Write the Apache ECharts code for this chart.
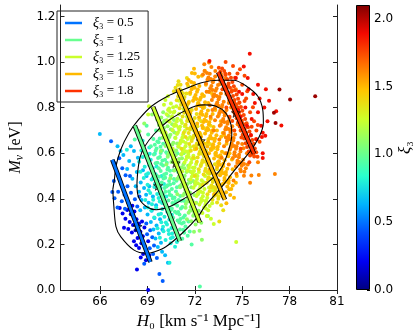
<!DOCTYPE html>
<html>
<head>
<meta charset="utf-8">
<script src="https://cdn.jsdelivr.net/npm/echarts@6/dist/echarts.min.js"></script>
<style>
  html, body { margin: 0; padding: 0; background: #fff; }
  #chart { width: 415px; height: 336px; }
</style>
</head>
<body>
<div id="chart"></div>
<script>
// tick labels
const xTicks = [66, 69, 72, 75, 78, 81];
const yTicks = [0, 0.2, 0.4, 0.6, 0.8, 1.0, 1.2];
const cbTicks = [0, 0.5, 1.0, 1.5, 2.0];

// xi3 value of the samples, one list of [H0, Mnu] per colour
const xiLevels = [0.2, 0.45, 0.65, 0.8, 0.95, 1.1, 1.25, 1.38, 1.5, 1.62, 1.75, 1.88, 2.05];

const pts020 = [[67.72,0.351],[67.95,0.332],[68.18,0.344],[67.61,0.312],[67.88,0.298],[68.09,0.285],[68.31,0.31],[68.47,0.292],[67.79,0.268],[68.02,0.252],[68.25,0.262],[68.56,0.255],[68.71,0.236],[68.38,0.228],[68.15,0.214],[68.62,0.205],[68.84,0.192],[68.47,0.184],[68.95,0.168],[68.73,0.158],[69.12,0.151],[68.58,0.142],[68.91,0.131],[68.29,0.196],[67.52,0.273],[67.43,0.336],[68.81,0.274],[69.05,0.214],[68.34,0.09],[69.05,0.0],[67.25,0.36],[68.05,0.37],[68.66,0.3]];
const pts045 = [[66.70,0.652],[67.22,0.578],[66.95,0.556],[67.41,0.534],[67.08,0.512],[67.62,0.503],[66.88,0.478],[67.33,0.466],[67.74,0.455],[67.15,0.431],[67.55,0.418],[67.96,0.426],[66.92,0.402],[67.38,0.389],[67.82,0.381],[68.21,0.398],[67.11,0.362],[67.58,0.356],[68.36,0.366],[68.93,0.292],[69.18,0.262],[69.31,0.231],[68.98,0.244],[69.42,0.195],[69.15,0.183],[69.36,0.158],[69.6,0.14],[69.76,0.07],[69.97,0.04],[68.8,0.115],[66.78,0.43],[67.9,0.5],[68.5,0.41]];
const pts065 = [[65.99,0.684],[67.11,0.630],[67.48,0.592],[67.85,0.566],[68.12,0.548],[67.72,0.531],[68.33,0.517],[68.05,0.488],[68.58,0.472],[68.26,0.455],[68.79,0.447],[68.47,0.431],[68.92,0.418],[68.63,0.395],[69.08,0.383],[68.84,0.362],[69.27,0.348],[69.01,0.331],[69.45,0.316],[69.22,0.298],[69.58,0.283],[69.38,0.265],[69.72,0.248],[69.51,0.226],[69.86,0.207],[69.66,0.189],[69.93,0.168],[70.12,0.152],[68.4,0.58],[68.72,0.525],[69.12,0.455],[69.55,0.372],[69.8,0.31],[68.15,0.61],[67.95,0.63],[69.35,0.41],[69.95,0.265],[70.3,0.12],[68.95,0.5],[68.55,0.35],[67.3,0.61]];
const pts080 = [[68.62,0.612],[68.95,0.588],[68.48,0.562],[69.21,0.571],[68.83,0.541],[69.34,0.534],[69.05,0.512],[69.52,0.508],[68.77,0.491],[69.27,0.485],[69.66,0.479],[69.01,0.462],[69.44,0.452],[69.83,0.448],[69.18,0.425],[69.62,0.421],[69.97,0.414],[69.37,0.396],[69.78,0.388],[70.11,0.378],[69.56,0.362],[69.95,0.355],[70.26,0.343],[69.71,0.331],[70.08,0.321],[70.39,0.309],[69.88,0.297],[70.24,0.287],[70.52,0.272],[70.02,0.258],[70.36,0.246],[70.61,0.231],[70.15,0.219],[70.47,0.205],[70.75,0.19],[69.12,0.625],[69.47,0.598],[68.7,0.655],[70.2,0.41],[70.55,0.33],[69.9,0.5],[70.87,0.21],[70.05,0.465],[69.25,0.35],[70.4,0.12],
  [68.71,0.583],[69.13,0.547],[68.92,0.507],[69.48,0.466],[69.07,0.437],[69.71,0.403],[69.29,0.376],[69.86,0.334],[69.43,0.318],[70.17,0.296],[69.64,0.271],[70.33,0.262],[69.79,0.229],[70.56,0.248],[68.87,0.395],[69.58,0.542],[69.93,0.382],[70.28,0.359],[69.36,0.492],[68.56,0.519],[69.02,0.362],[70.48,0.227],[69.15,0.598],[69.99,0.277],[67.7,0.615]];
const pts095 = [[69.05,0.682],[69.38,0.662],[69.71,0.648],[69.22,0.631],[69.58,0.621],[69.93,0.612],[69.41,0.594],[69.79,0.583],[70.12,0.571],[69.63,0.558],[69.99,0.546],[70.31,0.536],[69.84,0.522],[70.19,0.511],[70.48,0.502],[70.02,0.489],[70.37,0.478],[70.66,0.468],[70.21,0.454],[70.55,0.443],[70.81,0.432],[70.41,0.418],[70.72,0.406],[70.98,0.395],[70.58,0.382],[70.89,0.369],[71.12,0.357],[70.74,0.343],[71.03,0.331],[71.27,0.318],[70.91,0.305],[71.18,0.292],[71.41,0.279],[71.06,0.265],[71.33,0.251],[71.55,0.238],[71.21,0.225],[69.55,0.7],[70.28,0.595],[70.65,0.525],[71.05,0.455],[71.35,0.39],[71.6,0.3],[68.95,0.72],[69.6,0.5],[70.0,0.42],[70.4,0.36],[71.8,0.2],[70.9,0.6],[72.32,0.015],
  [69.47,0.637],[69.84,0.601],[70.23,0.558],[69.72,0.534],[70.06,0.507],[70.43,0.523],[69.91,0.472],[70.29,0.459],[70.68,0.487],[70.14,0.431],[70.52,0.414],[70.87,0.451],[70.33,0.392],[70.71,0.377],[71.08,0.412],[70.49,0.351],[70.86,0.338],[71.21,0.364],[70.63,0.317],[71.02,0.296],[71.37,0.327],[69.68,0.579],[70.37,0.621],[70.81,0.562],[71.14,0.502],[70.95,0.518],[69.52,0.556],[70.0,0.641],[70.58,0.593],[71.45,0.431],[71.27,0.264],[71.68,0.257],[70.16,0.374],[69.78,0.665],
  [69.52,0.611],[69.87,0.553],[70.13,0.492],[70.44,0.463],[69.74,0.497],[70.61,0.401],[70.95,0.342],[69.95,0.568],[70.27,0.528],[70.79,0.389],[71.09,0.311],[70.08,0.447],[70.37,0.432],[69.63,0.651],[70.55,0.358],[71.3,0.296],[70.84,0.479],[70.19,0.604],[69.83,0.628],[71.16,0.391],[68.2,0.66]];
const pts110 = [[69.62,0.748],[69.95,0.731],[70.28,0.718],[69.78,0.702],[70.12,0.693],[70.46,0.681],[69.97,0.668],[70.31,0.657],[70.64,0.646],[70.15,0.632],[70.49,0.621],[70.82,0.612],[70.34,0.597],[70.68,0.586],[71.01,0.575],[70.52,0.561],[70.86,0.549],[71.18,0.538],[70.71,0.524],[71.04,0.512],[71.36,0.501],[70.89,0.488],[71.22,0.476],[71.53,0.465],[71.07,0.451],[71.4,0.439],[71.69,0.428],[71.25,0.414],[71.57,0.402],[71.85,0.391],[71.43,0.377],[71.74,0.364],[72.01,0.352],[71.61,0.339],[71.9,0.326],[72.16,0.314],[71.78,0.301],[72.05,0.287],[71.95,0.256],[72.3,0.26],[69.3,0.77],[70.0,0.78],[70.6,0.7],[71.3,0.6],[71.7,0.52],[72.2,0.42],[70.2,0.55],[70.9,0.42],[69.85,0.61],[72.45,0.22],[71.1,0.65],[71.5,0.31],[72.0,0.47],[70.45,0.49],[72.83,0.325],
  [69.88,0.757],[70.21,0.744],[70.57,0.727],[70.05,0.711],[70.39,0.671],[70.76,0.668],[70.23,0.679],[70.58,0.638],[70.96,0.628],[70.42,0.608],[70.79,0.591],[71.13,0.594],[70.61,0.572],[70.97,0.557],[71.29,0.552],[70.83,0.531],[71.14,0.521],[71.47,0.518],[70.99,0.498],[71.31,0.487],[71.62,0.482],[71.16,0.463],[71.49,0.447],[71.78,0.451],[71.34,0.423],[71.66,0.409],[71.97,0.417],[71.52,0.388],[71.82,0.371],[72.09,0.383],[71.69,0.348],[71.98,0.335],[70.31,0.764],[69.73,0.724],[70.68,0.746],[71.24,0.615],[71.58,0.545],[71.9,0.478],[72.24,0.348],[72.41,0.295],
  [70.07,0.742],[70.36,0.639],[70.74,0.609],[70.29,0.584],[70.92,0.532],[71.23,0.457],[71.51,0.419],[70.64,0.566],[71.07,0.488],[71.42,0.361],[71.84,0.349],[70.48,0.705],[70.88,0.643],[71.19,0.578],[71.63,0.389],[72.12,0.308],[70.71,0.691],[71.35,0.534],[71.72,0.472],[69.92,0.692],[68.5,0.696],[68.8,0.73]];
const pts125 = [[70.05,0.812],[70.38,0.796],[70.71,0.783],[70.22,0.771],[70.56,0.762],[70.89,0.751],[70.41,0.738],[70.74,0.727],[71.07,0.716],[70.59,0.702],[70.93,0.691],[71.26,0.681],[70.78,0.667],[71.12,0.656],[71.44,0.645],[70.97,0.631],[71.31,0.62],[71.63,0.609],[71.16,0.596],[71.49,0.584],[71.81,0.573],[71.35,0.559],[71.68,0.548],[71.99,0.537],[71.54,0.523],[71.86,0.511],[72.17,0.5],[71.73,0.486],[72.05,0.474],[72.34,0.463],[71.92,0.449],[72.23,0.437],[72.52,0.426],[72.11,0.412],[72.41,0.4],[72.68,0.389],[72.29,0.375],[72.59,0.362],[72.85,0.35],[72.48,0.338],[72.76,0.325],[73.02,0.313],[72.72,0.393],[70.3,0.85],[71.0,0.83],[71.8,0.66],[72.4,0.55],[72.9,0.45],[70.6,0.62],[71.2,0.52],[71.95,0.7],[73.1,0.38],[70.15,0.69],[72.65,0.5],[71.5,0.76],[74.62,0.21],[73.2,0.29],[72.0,0.38],[70.8,0.57],[71.4,0.45],
  [70.14,0.833],[70.49,0.818],[70.83,0.806],[70.31,0.789],[70.66,0.779],[71.01,0.772],[70.52,0.754],[70.86,0.739],[71.19,0.733],[70.69,0.719],[71.03,0.703],[71.37,0.697],[70.87,0.684],[71.21,0.668],[71.54,0.662],[71.06,0.643],[71.41,0.631],[71.72,0.627],[71.25,0.608],[71.59,0.596],[71.91,0.589],[71.44,0.571],[71.77,0.559],[72.08,0.553],[71.63,0.536],[71.95,0.522],[72.26,0.517],[71.82,0.498],[72.14,0.487],[72.44,0.481],[72.02,0.461],[72.33,0.449],[72.61,0.443],[72.2,0.424],[72.51,0.411],[72.79,0.405],[72.38,0.386],[72.67,0.374],[72.94,0.368],[71.29,0.794],[71.65,0.742],[72.35,0.623],[72.83,0.512],[73.16,0.438],
  [70.44,0.781],[70.97,0.712],[71.27,0.651],[71.62,0.583],[71.88,0.536],[72.19,0.468],[72.47,0.394],[70.63,0.802],[71.12,0.744],[71.46,0.608],[71.79,0.517],[72.09,0.505],[72.37,0.431],[72.7,0.357],[70.82,0.721],[71.36,0.718],[71.97,0.578],[72.55,0.473],[70.27,0.742],[71.7,0.671],[69.05,0.77],[69.1,0.806]];
const pts138 = [[70.68,0.872],[71.02,0.858],[71.35,0.846],[70.86,0.832],[71.2,0.822],[71.53,0.811],[71.04,0.797],[71.38,0.786],[71.71,0.775],[71.23,0.761],[71.57,0.75],[71.89,0.739],[71.42,0.725],[71.76,0.714],[72.08,0.703],[71.61,0.689],[71.95,0.678],[72.26,0.667],[71.8,0.653],[72.13,0.642],[72.44,0.631],[71.99,0.617],[72.32,0.606],[72.62,0.595],[72.18,0.581],[72.5,0.569],[72.8,0.558],[72.37,0.544],[72.69,0.532],[72.98,0.521],[72.56,0.507],[72.87,0.495],[73.15,0.484],[72.75,0.47],[73.05,0.458],[73.33,0.447],[72.94,0.433],[73.23,0.421],[73.5,0.41],[73.12,0.396],[73.41,0.384],[73.67,0.372],[71.1,0.9],[71.7,0.86],[72.4,0.74],[72.95,0.64],[73.4,0.53],[71.3,0.69],[71.9,0.58],[72.5,0.46],[73.6,0.46],[71.5,0.93],[72.2,0.82],[72.75,0.7],[73.3,0.6],[71.15,0.62],[72.0,0.5],[73.8,0.35],[70.97,0.916],[72.6,0.8],[73.0,0.72],[71.65,0.64],[72.25,0.53],[72.8,0.42],[73.55,0.3],
  [70.78,0.887],[71.13,0.874],[71.47,0.862],[70.95,0.849],[71.29,0.837],[71.63,0.826],[71.13,0.812],[71.47,0.802],[71.81,0.79],[71.33,0.777],[71.67,0.766],[72.0,0.754],[71.51,0.741],[71.85,0.729],[72.17,0.718],[71.7,0.704],[72.04,0.693],[72.36,0.683],[71.89,0.668],[72.23,0.657],[72.53,0.646],[72.08,0.632],[72.41,0.621],[72.71,0.611],[72.27,0.596],[72.59,0.585],[72.89,0.574],[72.46,0.559],[72.78,0.548],[73.07,0.537],[72.65,0.522],[72.96,0.511],[73.24,0.5],[72.84,0.486],[73.14,0.474],[73.42,0.463],[73.03,0.449],[73.32,0.437],[73.59,0.426],[73.21,0.412],[73.49,0.4],[71.58,0.895],[71.97,0.84],[72.58,0.71],[73.15,0.62],[73.61,0.51],[72.12,0.772],[72.86,0.661],[73.45,0.56],[71.42,0.671],[71.75,0.611],[72.13,0.562],
  [71.06,0.881],[71.41,0.807],[71.78,0.742],[72.11,0.683],[72.47,0.598],[72.82,0.517],[73.18,0.452],[71.25,0.863],[71.66,0.784],[72.03,0.716],[72.33,0.636],[72.68,0.563],[73.02,0.488],[73.36,0.419],[71.52,0.708],[71.94,0.631],[72.72,0.641],[72.29,0.748],[73.27,0.551],[70.92,0.899]];
const pts150 = [[71.52,0.905],[71.86,0.892],[72.19,0.879],[71.71,0.866],[72.05,0.855],[72.38,0.844],[71.89,0.83],[72.23,0.819],[72.56,0.808],[72.08,0.794],[72.42,0.783],[72.74,0.772],[72.27,0.758],[72.61,0.747],[72.92,0.736],[72.46,0.722],[72.8,0.711],[73.1,0.7],[72.65,0.686],[72.98,0.675],[73.28,0.664],[72.84,0.65],[73.16,0.639],[73.46,0.628],[73.03,0.614],[73.34,0.602],[73.63,0.591],[73.22,0.577],[73.52,0.565],[73.8,0.554],[73.41,0.54],[73.7,0.528],[73.97,0.517],[73.6,0.503],[73.88,0.491],[74.14,0.48],[73.79,0.466],[74.06,0.454],[74.31,0.443],[73.98,0.429],[74.24,0.417],[74.48,0.405],[72.0,0.95],[72.7,0.9],[73.3,0.79],[73.85,0.68],[74.2,0.6],[72.3,0.69],[72.9,0.6],[73.5,0.48],[71.7,0.78],[72.15,0.73],[74.4,0.53],[73.1,0.86],[73.65,0.74],[72.55,0.64],[71.95,0.97],[74.0,0.38],[73.25,0.42],[72.45,0.94],[73.9,0.6],[74.6,0.47],[72.85,0.82],[73.4,0.7],[74.1,0.66],[71.6,0.82],[72.95,0.53],[73.75,0.41],[74.66,0.5],[72.1,0.62],
  [71.61,0.921],[71.95,0.908],[72.29,0.895],[71.8,0.881],[72.14,0.87],[72.47,0.859],[71.98,0.845],[72.32,0.834],[72.65,0.823],[72.17,0.809],[72.51,0.798],[72.83,0.787],[72.36,0.773],[72.7,0.762],[73.01,0.751],[72.55,0.737],[72.89,0.726],[73.19,0.715],[72.74,0.701],[73.07,0.69],[73.37,0.679],[72.93,0.665],[73.25,0.654],[73.55,0.643],[73.12,0.629],[73.43,0.617],[73.72,0.606],[73.31,0.592],[73.61,0.58],[73.89,0.569],[73.5,0.555],[73.79,0.543],[74.06,0.532],[73.69,0.518],[73.97,0.506],[74.23,0.495],[73.88,0.481],[74.15,0.469],[74.4,0.458],[72.22,0.935],[72.95,0.868],[73.52,0.767],[74.01,0.641],[74.35,0.572],[72.5,0.711],[73.0,0.618],[73.58,0.452],[71.82,0.952],[72.63,0.962],[73.77,0.689],[74.27,0.625],[72.4,0.672],
  [71.77,0.912],[72.11,0.838],[72.48,0.769],[72.86,0.703],[73.21,0.626],[73.57,0.549],[73.92,0.474],[71.99,0.887],[72.37,0.807],[72.72,0.741],[73.09,0.665],[73.46,0.587],[73.81,0.512],[74.18,0.442],[72.58,0.851],[73.13,0.772],[73.67,0.672],[74.12,0.587],[72.79,0.629],[73.33,0.508]];
const pts162 = [[72.52,0.945],[72.86,0.932],[73.19,0.921],[72.71,0.906],[73.05,0.895],[73.38,0.884],[72.89,0.869],[73.23,0.858],[73.56,0.847],[73.08,0.833],[73.42,0.822],[73.74,0.811],[73.27,0.797],[73.61,0.786],[73.92,0.775],[73.46,0.761],[73.8,0.75],[74.1,0.739],[73.65,0.725],[73.98,0.714],[74.28,0.703],[73.84,0.689],[74.16,0.678],[74.46,0.667],[74.03,0.653],[74.34,0.641],[74.64,0.63],[74.22,0.616],[74.52,0.604],[74.8,0.593],[74.41,0.579],[74.7,0.567],[74.97,0.556],[74.6,0.542],[74.88,0.53],[75.14,0.519],[75.11,0.501],[75.58,0.502],[76.05,0.504],[72.6,0.99],[73.3,0.96],[74.0,0.86],[74.5,0.78],[74.9,0.7],[73.0,0.76],[73.55,0.66],[74.15,0.55],[75.3,0.6],[73.95,0.93],[74.6,0.88],[72.95,0.81],[73.7,0.58],[75.0,0.64],[74.3,0.8],[73.2,0.7],[75.35,0.55],[72.75,0.87],[74.45,0.48],[75.5,0.47],[73.85,0.63],[77.07,0.509],[76.0,0.56],[72.9,0.998],[74.8,0.82],
  [72.62,0.961],[72.95,0.948],[73.29,0.936],[72.8,0.922],[73.14,0.911],[73.47,0.899],[72.98,0.885],[73.32,0.874],[73.65,0.862],[73.17,0.848],[73.51,0.837],[73.83,0.826],[73.36,0.812],[73.7,0.801],[74.01,0.79],[73.55,0.776],[73.89,0.765],[74.19,0.754],[73.74,0.74],[74.07,0.729],[74.37,0.718],[73.93,0.704],[74.25,0.693],[74.55,0.682],[74.12,0.668],[74.43,0.656],[74.73,0.645],[74.31,0.631],[74.61,0.619],[74.89,0.608],[74.5,0.594],[74.79,0.582],[75.06,0.571],[74.69,0.557],[74.97,0.545],[75.23,0.534],[73.05,0.978],[73.66,0.947],[74.38,0.876],[74.88,0.763],[75.18,0.666],[73.12,0.79],[73.58,0.72],[74.0,0.6],[74.63,0.51],[74.15,0.82],
  [72.77,0.952],[73.12,0.877],[73.49,0.808],[73.86,0.737],[74.22,0.662],[74.57,0.588],[74.91,0.521],[73.01,0.925],[73.39,0.851],[73.77,0.782],[74.12,0.706],[74.48,0.632],[74.82,0.561],[75.12,0.553],[73.59,0.903],[74.19,0.832],[74.71,0.727],[75.08,0.622],[73.28,0.745],[73.97,0.669]];
const pts175 = [[73.52,0.975],[73.86,0.961],[74.19,0.948],[73.71,0.935],[74.05,0.924],[74.38,0.912],[73.89,0.898],[74.23,0.887],[74.56,0.876],[74.08,0.862],[74.42,0.851],[74.74,0.839],[74.27,0.825],[74.61,0.814],[74.92,0.803],[74.46,0.789],[74.8,0.778],[75.1,0.767],[74.65,0.753],[74.98,0.742],[75.28,0.731],[74.84,0.717],[75.16,0.706],[75.46,0.695],[75.03,0.681],[75.34,0.669],[75.64,0.658],[75.22,0.644],[75.52,0.632],[75.8,0.621],[75.41,0.607],[75.7,0.595],[75.97,0.584],[74.42,0.982],[75.0,0.9],[75.5,0.78],[75.9,0.7],[74.0,0.8],[74.5,0.7],[73.75,0.88],[75.25,0.84],[75.75,0.74],[74.9,0.62],[75.45,0.56],[73.6,0.92],[74.7,0.95],[76.1,0.65],[74.2,0.76],[75.15,0.94],[73.95,1.0],
  [73.61,0.957],[73.95,0.944],[74.29,0.931],[73.8,0.917],[74.14,0.906],[74.47,0.894],[73.98,0.88],[74.32,0.869],[74.65,0.858],[74.17,0.844],[74.51,0.833],[74.83,0.822],[74.36,0.808],[74.7,0.797],[75.01,0.786],[74.55,0.772],[74.89,0.761],[75.19,0.75],[74.74,0.736],[75.07,0.725],[75.37,0.714],[74.93,0.7],[75.25,0.689],[75.55,0.678],[75.12,0.664],[75.43,0.652],[75.73,0.641],[75.31,0.627],[75.61,0.615],[75.89,0.604],[75.5,0.59],[74.86,0.968],[75.32,0.872],[75.68,0.801],[75.99,0.724],
  [73.73,0.971],[74.12,0.894],[74.5,0.822],[74.87,0.748],[75.23,0.672],[75.58,0.604],[73.93,0.949],[74.33,0.873],[74.7,0.802],[75.06,0.728],[75.41,0.655],[75.76,0.586],[74.55,0.931],[75.15,0.829],[75.6,0.716],[74.37,0.741],[74.95,0.669],[75.88,0.662]];
const pts188 = [[72.93,1.004],[75.48,1.036],[74.6,0.93],[75.0,0.86],[75.4,0.88],[75.8,0.82],[75.2,0.8],[75.6,0.75],[76.0,0.78],[76.2,0.72],[75.9,0.66],[76.3,0.6],[75.7,0.86],[76.1,0.84],[76.4,0.8],[76.6,0.74],[76.3,0.69],[77.15,0.784],[77.48,0.722],[76.25,0.671],[76.46,0.677],[76.3,0.579],[75.3,0.72],[74.9,0.76],[75.55,0.68],[76.7,0.83],[75.1,0.98],[74.8,0.87],[76.0,0.9],[75.35,0.93],[76.5,0.88],[74.75,0.79],[75.65,0.62]];
const pts205 = [[77.36,0.879],[78.03,0.835],[79.62,0.850],[77.01,0.777],[77.11,0.733]];
const levelPts = [pts020, pts045, pts065, pts080, pts095, pts110, pts125, pts138, pts150, pts162, pts175, pts188, pts205];

// confidence contours [H0, Mnu]
const outerContour = [[66.81,0.440],[66.91,0.484],[67.01,0.542],[67.31,0.615],[67.83,0.689],[68.44,0.747],[69.26,0.806],[70.28,0.850],[71.29,0.879],[72.42,0.909],[73.44,0.920],[74.46,0.920],[75.27,0.894],[75.99,0.850],[76.30,0.791],[76.34,0.733],[76.09,0.674],[75.58,0.615],[75.07,0.571],[74.46,0.520],[73.64,0.447],[72.62,0.366],[72.21,0.322],[71.20,0.249],[70.17,0.190],[69.46,0.168],[68.95,0.161],[68.13,0.176],[67.31,0.234],[67.01,0.278],[66.87,0.374],[66.81,0.440]];
const innerContour = [[68.40,0.527],[68.55,0.585],[68.82,0.628],[69.40,0.682],[70.28,0.740],[71.15,0.778],[72.01,0.806],[72.62,0.812],[73.34,0.806],[73.95,0.777],[74.29,0.725],[74.34,0.681],[74.15,0.615],[73.74,0.542],[73.23,0.497],[72.38,0.448],[71.40,0.404],[70.38,0.365],[69.56,0.352],[68.95,0.365],[68.46,0.404],[68.34,0.462],[68.40,0.527]];

// fixed-xi3 bands: end points and best-fit stars
const bandXi = [0.5, 1, 1.25, 1.5, 1.8];
const bandTop = [[66.78,0.571],[68.20,0.721],[69.36,0.803],[70.91,0.882],[73.48,0.955]];
const bandBot = [[69.19,0.123],[71.05,0.215],[72.32,0.296],[73.91,0.396],[75.75,0.598]];
const bandStar = [[68.38,0.278],[69.68,0.457],[70.79,0.557],[72.38,0.654],[74.60,0.777]];
const bandColors = ['#0073ff', '#68ff8f', '#caff2d', '#ffb900', '#ff3200'];

// jet colormap, evenly spaced
const JET = ['#000080','#0000f3','#004dff','#00b3ff','#29ffce','#7bff7b','#ceff29','#ffc600','#ff6800','#f30900','#800000'];

const chart = echarts.init(document.getElementById('chart'), null, {renderer: 'canvas'});

const scatterData = [];
levelPts.forEach((arr, i) => arr.forEach(p => scatterData.push([p[0], p[1], xiLevels[i]])));

const starPath = 'path://M0,-10L2.35,-3.24L9.51,-3.09L3.8,1.24L5.88,8.09L0,4L-5.88,8.09L-3.8,1.24L-9.51,-3.09L-2.35,-3.24Z';
const tickFont = {fontFamily: 'DejaVu Sans', fontSize: 12, color: '#000'};
const serif = 'Liberation Serif';

const series = [{
  type: 'scatter',
  xAxisIndex: 0, yAxisIndex: 0,
  data: scatterData,
  symbolSize: 4,
  itemStyle: {opacity: 1},
  silent: true
}];
[outerContour, innerContour].forEach(c => series.push({
  type: 'line', xAxisIndex: 0, yAxisIndex: 0,
  data: c, smooth: 0.3, showSymbol: false, silent: true,
  lineStyle: {color: '#000', width: 1.1}
}));
bandXi.forEach((xi, i) => series.push({
  type: 'line', name: 'outline' + i, xAxisIndex: 0, yAxisIndex: 0,
  data: [bandTop[i], bandBot[i]], showSymbol: false, silent: true,
  lineStyle: {color: '#000', width: 4.6}
}));
bandXi.forEach((xi, i) => series.push({
  type: 'line', name: 'xi' + i, xAxisIndex: 0, yAxisIndex: 0,
  data: [bandTop[i], bandBot[i]], showSymbol: false, silent: true,
  color: bandColors[i],
  lineStyle: {color: bandColors[i], width: 2.8}
}));
series.push({
  type: 'scatter', xAxisIndex: 0, yAxisIndex: 0,
  data: bandStar.map((p, i) => ({value: p, itemStyle: {color: bandColors[i]}})),
  symbol: starPath, symbolSize: 9, silent: true,
  itemStyle: {borderColor: '#000', borderWidth: 0.9}
});
// colour bar
series.push({
  type: 'bar', xAxisIndex: 2, yAxisIndex: 2,
  data: [2.1], barWidth: '100%', silent: true,
  itemStyle: {
    color: {type: 'linear', x: 0, y: 1, x2: 0, y2: 0,
      colorStops: JET.map((c, i) => ({offset: i / (JET.length - 1), color: c}))},
    borderColor: '#000', borderWidth: 1
  }
});

const option = {
  animation: false,
  backgroundColor: '#fff',
  grid: [
    {left: 51, top: 5, right: 78, bottom: 46},
    {left: 356, top: 5, width: 14, bottom: 46}
  ],
  visualMap: {
    type: 'continuous', show: false, min: 0, max: 2.1, dimension: 2,
    seriesIndex: 0, inRange: {color: JET}
  },
  legend: {
    orient: 'vertical', left: 57, top: 11,
    data: bandXi.map((x, i) => 'xi' + i),
    icon: 'rect', itemWidth: 17, itemHeight: 2.5, itemGap: 3,
    borderColor: '#222', borderWidth: 1, padding: [5, 8, 4, 8],
    formatter: name => {
      const i = +name.slice(2);
      return '{a|ξ}{b|₃ = ' + bandXi[i] + '}';
    },
    textStyle: {
      padding: [0, 0, 0, 6],
      rich: {
        a: {fontFamily: serif, fontStyle: 'italic', fontSize: 14, lineHeight: 14, color: '#000'},
        b: {fontFamily: serif, fontSize: 13, lineHeight: 14, color: '#000'}
      }
    }
  },
  xAxis: [
    {
      type: 'value', gridIndex: 0, min: 63.5, max: 81, position: 'bottom',
      axisLine: {lineStyle: {color: '#222', width: 1}},
      axisTick: {inside: true, length: 4, customValues: xTicks, lineStyle: {color: '#222'}},
      axisLabel: {customValues: xTicks, margin: 6, ...tickFont},
      splitLine: {show: false},
      name: '{i|H}{n|₀ [km s⁻¹ Mpc⁻¹]}', nameLocation: 'middle', nameGap: 22,
      nameTextStyle: {rich: {
        i: {fontFamily: serif, fontStyle: 'italic', fontSize: 17, color: '#000'},
        n: {fontFamily: serif, fontSize: 17, color: '#000'}
      }}
    },
    {
      type: 'value', gridIndex: 0, min: 63.5, max: 81, position: 'top',
      axisLine: {lineStyle: {color: '#222', width: 1}},
      axisTick: {inside: true, length: 4, customValues: xTicks, lineStyle: {color: '#222'}},
      axisLabel: {show: false}, splitLine: {show: false}
    },
    {
      type: 'category', gridIndex: 1, data: [''],
      axisLine: {show: false}, axisTick: {show: false}, axisLabel: {show: false}
    }
  ],
  yAxis: [
    {
      type: 'value', gridIndex: 0, min: 0, max: 1.25, position: 'left',
      axisLine: {show: true, lineStyle: {color: '#222', width: 1}},
      axisTick: {show: true, inside: true, length: 4, customValues: yTicks, lineStyle: {color: '#222'}},
      axisLabel: {customValues: yTicks, margin: 5, formatter: v => v.toFixed(1), ...tickFont},
      splitLine: {show: false},
      name: '{i|M}{s|ν}{n| [eV]}', nameLocation: 'middle', nameGap: 25, nameRotate: 90,
      nameTextStyle: {rich: {
        i: {fontFamily: serif, fontStyle: 'italic', fontSize: 16, lineHeight: 19, color: '#000'},
        s: {fontFamily: serif, fontStyle: 'italic', fontSize: 12, lineHeight: 12, verticalAlign: 'bottom', color: '#000'},
        n: {fontFamily: serif, fontSize: 16, lineHeight: 19, color: '#000'}
      }}
    },
    {
      type: 'value', gridIndex: 0, min: 0, max: 1.25, position: 'right',
      axisLine: {show: true, lineStyle: {color: '#222', width: 1}},
      axisTick: {show: true, inside: true, length: 4, customValues: yTicks, lineStyle: {color: '#222'}},
      axisLabel: {show: false}, splitLine: {show: false}
    },
    {
      type: 'value', gridIndex: 1, min: 0, max: 2.1, position: 'right',
      axisLine: {show: false},
      axisTick: {show: true, inside: true, length: 3, customValues: cbTicks, lineStyle: {color: '#000'}},
      axisLabel: {customValues: cbTicks, margin: 4, formatter: v => v.toFixed(1), ...tickFont},
      splitLine: {show: false},
      name: '{i|ξ}{n|₃}', nameLocation: 'middle', nameGap: 24, nameRotate: 90,
      nameTextStyle: {rich: {
        i: {fontFamily: serif, fontStyle: 'italic', fontSize: 17, color: '#000'},
        n: {fontFamily: serif, fontSize: 16, color: '#000'}
      }}
    }
  ],
  series: series
};
chart.setOption(option);
</script>
</body>
</html>
